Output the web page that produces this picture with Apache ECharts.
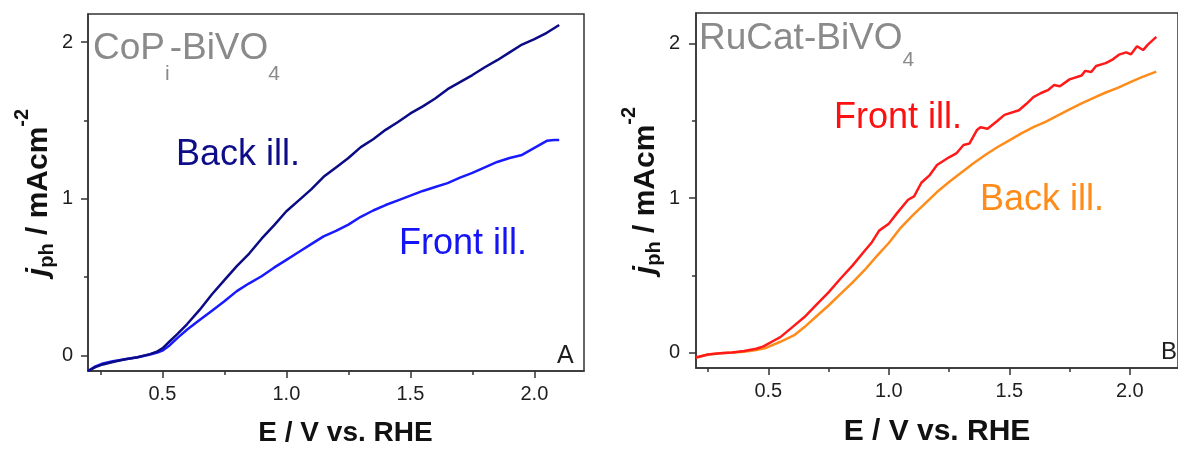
<!DOCTYPE html>
<html>
<head>
<meta charset="utf-8">
<script src="https://cdn.jsdelivr.net/npm/echarts@6/dist/echarts.min.js"></script>
<style>
html,body{margin:0;padding:0;background:#fff;}
#chart{width:1178px;height:452px;}
</style>
</head>
<body>
<div id="chart"></div>
<script>
// ---------- Data ----------
// Panel A: CoPi-BiVO4
const aBackX  = [0.20,0.23,0.26,0.30,0.35,0.40,0.45,0.48,0.50,0.53,0.56,0.60,0.65,0.70,0.75,0.80,0.85,0.90,0.95,1.00,1.05,1.10,1.15,1.20,1.25,1.30,1.35,1.40,1.45,1.50,1.55,1.60,1.65,1.70,1.75,1.80,1.85,1.90,1.95,2.00,2.05,2.10];
const aBackY  = [-0.10,-0.075,-0.058,-0.042,-0.025,-0.012,0.008,0.025,0.045,0.09,0.135,0.20,0.29,0.39,0.48,0.57,0.65,0.745,0.83,0.92,0.99,1.06,1.14,1.20,1.26,1.33,1.38,1.44,1.49,1.545,1.59,1.64,1.70,1.745,1.79,1.84,1.885,1.935,1.985,2.02,2.06,2.11];
const aFrontX = [0.20,0.23,0.26,0.30,0.35,0.40,0.45,0.48,0.50,0.53,0.56,0.60,0.65,0.70,0.75,0.80,0.85,0.90,0.95,1.00,1.05,1.10,1.15,1.20,1.25,1.30,1.35,1.40,1.45,1.50,1.55,1.60,1.65,1.70,1.75,1.80,1.85,1.90,1.95,2.00,2.05,2.08,2.10];
const aFrontY = [-0.10,-0.07,-0.052,-0.038,-0.025,-0.012,0.005,0.018,0.03,0.065,0.11,0.165,0.225,0.285,0.345,0.41,0.46,0.505,0.56,0.61,0.66,0.71,0.76,0.795,0.835,0.885,0.925,0.96,0.99,1.02,1.05,1.075,1.10,1.135,1.165,1.20,1.235,1.26,1.28,1.325,1.37,1.375,1.375];
// Panel B: RuCat-BiVO4
const bFrontX = [0.20,0.25,0.30,0.35,0.40,0.45,0.48,0.52,0.55,0.60,0.65,0.70,0.75,0.80,0.85,0.90,0.93,0.96,1.00,1.035,1.08,1.105,1.135,1.17,1.20,1.25,1.28,1.31,1.335,1.365,1.38,1.41,1.45,1.48,1.54,1.57,1.60,1.63,1.66,1.685,1.71,1.75,1.80,1.815,1.84,1.86,1.90,1.93,1.955,1.985,2.005,2.03,2.055,2.075,2.11];
const bFrontY = [-0.032,-0.012,-0.004,0.0,0.01,0.025,0.04,0.075,0.10,0.165,0.23,0.31,0.39,0.48,0.565,0.66,0.715,0.79,0.835,0.905,0.99,1.012,1.10,1.15,1.215,1.265,1.29,1.345,1.355,1.44,1.46,1.45,1.50,1.54,1.57,1.61,1.655,1.68,1.70,1.733,1.725,1.77,1.795,1.825,1.818,1.857,1.875,1.90,1.93,1.945,1.932,1.985,1.96,1.995,2.045];
const bBackX  = [0.20,0.25,0.30,0.35,0.40,0.45,0.49,0.55,0.61,0.65,0.70,0.75,0.80,0.85,0.90,0.95,1.00,1.05,1.10,1.15,1.20,1.25,1.30,1.35,1.40,1.45,1.50,1.55,1.60,1.65,1.70,1.75,1.80,1.85,1.90,1.95,2.00,2.05,2.11];
const bBackY  = [-0.032,-0.012,-0.004,0.0,0.006,0.016,0.03,0.07,0.115,0.165,0.235,0.305,0.38,0.455,0.535,0.625,0.71,0.81,0.89,0.965,1.04,1.105,1.165,1.225,1.28,1.33,1.375,1.42,1.46,1.495,1.535,1.575,1.615,1.65,1.685,1.715,1.75,1.785,1.82];

// Tick values
const xMajorTicks = [0.5, 1.0, 1.5, 2.0];
const xMinorTicks = [0.25, 0.75, 1.25, 1.75];
const yMajorTicks = [0, 1, 2];
const yMinorTicks = [0.5, 1.5];

const zip = (xs, ys) => xs.map((x, i) => [x, ys[i]]);

const FONT = '"Liberation Sans", Arial, Helvetica, sans-serif';
const AXC = '#333333';
const LBL = '#1e1e1e';

function labelX(grid, nameGap, nameSize, padLeft) {
  return {
    type: 'value', gridIndex: grid, position: 'bottom', min: 0.2, max: 2.2,
    axisLine: { show: true, onZero: false, lineStyle: { color: AXC, width: 1.5 } },
    axisTick: { show: false },
    axisLabel: { show: true, customValues: xMajorTicks, formatter: v => v.toFixed(1), fontSize: 20, lineHeight: 20, margin: 13, color: LBL, fontFamily: FONT },
    splitLine: { show: false },
    name: 'E / V vs. RHE', nameLocation: 'middle', nameGap: nameGap,
    nameTextStyle: { fontSize: nameSize, fontWeight: 'bold', color: '#111', fontFamily: FONT, lineHeight: nameSize, padding: [0, 0, 0, padLeft] }
  };
}
function tickX(grid, values, len) {
  return {
    type: 'value', gridIndex: grid, position: 'bottom', min: 0.2, max: 2.2,
    axisLine: { show: false, onZero: false },
    axisTick: { show: true, inside: false, length: len, customValues: values, lineStyle: { color: AXC, width: 1.5 } },
    axisLabel: { show: false }, splitLine: { show: false }
  };
}
const yNameRich = {
  j:   { fontSize: 30, lineHeight: 30, fontWeight: 'bold', fontStyle: 'italic', verticalAlign: 'top', padding: [11, 0, 0, 0], color: '#111', fontFamily: FONT },
  sb:  { fontSize: 20, lineHeight: 20, fontWeight: 'bold', verticalAlign: 'top', padding: [25, 0, 0, 0], color: '#111', fontFamily: FONT },
  m:   { fontSize: 30, lineHeight: 30, fontWeight: 'bold', verticalAlign: 'top', padding: [11, 0, 0, 0], color: '#111', fontFamily: FONT },
  sp:  { fontSize: 20, lineHeight: 20, fontWeight: 'bold', verticalAlign: 'top', padding: [0, 0, 0, 0], color: '#111', fontFamily: FONT }
};
function labelY(grid, max, nameGap, labelMargin) {
  return {
    type: 'value', gridIndex: grid, position: 'left', min: -0.1, max: max,
    axisLine: { show: true, onZero: false, lineStyle: { color: AXC, width: 1.5 } },
    axisTick: { show: false },
    axisLabel: { show: true, customValues: yMajorTicks, formatter: v => String(Math.round(v)), fontSize: 20, margin: labelMargin, color: LBL, fontFamily: FONT },
    splitLine: { show: false },
    name: '{j|j}{sb|ph}{m| / mAcm}{sp|-2}', nameLocation: 'middle', nameGap: nameGap,
    nameTextStyle: { rich: yNameRich }
  };
}
function tickY(grid, max, values, len) {
  return {
    type: 'value', gridIndex: grid, position: 'left', min: -0.1, max: max,
    axisLine: { show: false, onZero: false },
    axisTick: { show: true, inside: false, length: len, customValues: values, lineStyle: { color: AXC, width: 1.5 } },
    axisLabel: { show: false }, splitLine: { show: false }
  };
}

const subRich = (drop) => ({
  a: { fontSize: 37, lineHeight: 37, verticalAlign: 'top', fill: '#8a8a8a', fontFamily: FONT },
  s: { fontSize: 21, lineHeight: 21, verticalAlign: 'top', padding: [drop, 0, 0, 0], fill: '#8a8a8a', fontFamily: FONT }
});

function label(text, x, baseline, size, color) {
  return {
    type: 'text', x: x, y: baseline - 0.3465 * size, z: 100,
    style: { text: text, fontSize: size, fontFamily: FONT, fill: color, align: 'left', verticalAlign: 'middle' }
  };
}

const chart = echarts.init(document.getElementById('chart'), null, { renderer: 'canvas' });
chart.setOption({
  backgroundColor: '#ffffff',
  animation: false,
  grid: [
    { left: 88, top: 14, width: 496, height: 363, show: true, borderColor: AXC, borderWidth: 1.5, backgroundColor: 'transparent' },
    { left: 696, top: 13, width: 492, height: 359, show: true, borderColor: AXC, borderWidth: 1.5, backgroundColor: 'transparent' }
  ],
  xAxis: [
    labelX(0, 48, 28, 19), tickX(0, xMajorTicks, 7), tickX(0, xMinorTicks, 4),
    labelX(1, 49, 30, 0),  tickX(1, xMajorTicks, 7), tickX(1, xMinorTicks, 4)
  ],
  yAxis: [
    labelY(0, 2.18, 35, 15), tickY(0, 2.18, yMajorTicks, 7), tickY(0, 2.18, yMinorTicks, 4),
    labelY(1, 2.2, 39, 16),  tickY(1, 2.2, yMajorTicks, 7),  tickY(1, 2.2, yMinorTicks, 4)
  ],
  series: [
    { name: 'A Back ill.', type: 'line', xAxisIndex: 0, yAxisIndex: 0, data: zip(aBackX, aBackY), showSymbol: false, lineStyle: { color: '#0b0b86', width: 2.5 }, z: 3 },
    { name: 'A Front ill.', type: 'line', xAxisIndex: 0, yAxisIndex: 0, data: zip(aFrontX, aFrontY), showSymbol: false, lineStyle: { color: '#1a1aff', width: 2.5 }, z: 2 },
    { name: 'B Front ill.', type: 'line', xAxisIndex: 3, yAxisIndex: 3, data: zip(bFrontX, bFrontY), showSymbol: false, lineStyle: { color: '#ff1a1a', width: 2.5 }, z: 3 },
    { name: 'B Back ill.', type: 'line', xAxisIndex: 3, yAxisIndex: 3, data: zip(bBackX, bBackY), showSymbol: false, lineStyle: { color: '#ff8c1a', width: 2.5 }, z: 2 }
  ],
  graphic: [
    { type: 'text', x: 93, y: 30.2, z: 100, style: { text: '{a|CoP}{s|i}{a|-BiVO}{s|4}', rich: subRich(33.6), align: 'left', verticalAlign: 'top' } },
    { type: 'text', x: 699, y: 20.3, z: 100, style: { text: '{a|RuCat-BiVO}{s|4}', rich: subRich(29.9), align: 'left', verticalAlign: 'top' } },
    label('Back ill.', 176, 167.7, 36, '#0d0d8a'),
    label('Front ill.', 399, 257, 36, '#1414f5'),
    label('Front ill.', 834, 130.7, 36, '#ff1010'),
    label('Back ill.', 980, 213, 36, '#ff8c1a'),
    label('A', 557, 365, 25, '#1e1e1e'),
    label('B', 1161, 360.7, 24, '#1e1e1e')
  ]
});
</script>
</body>
</html>
